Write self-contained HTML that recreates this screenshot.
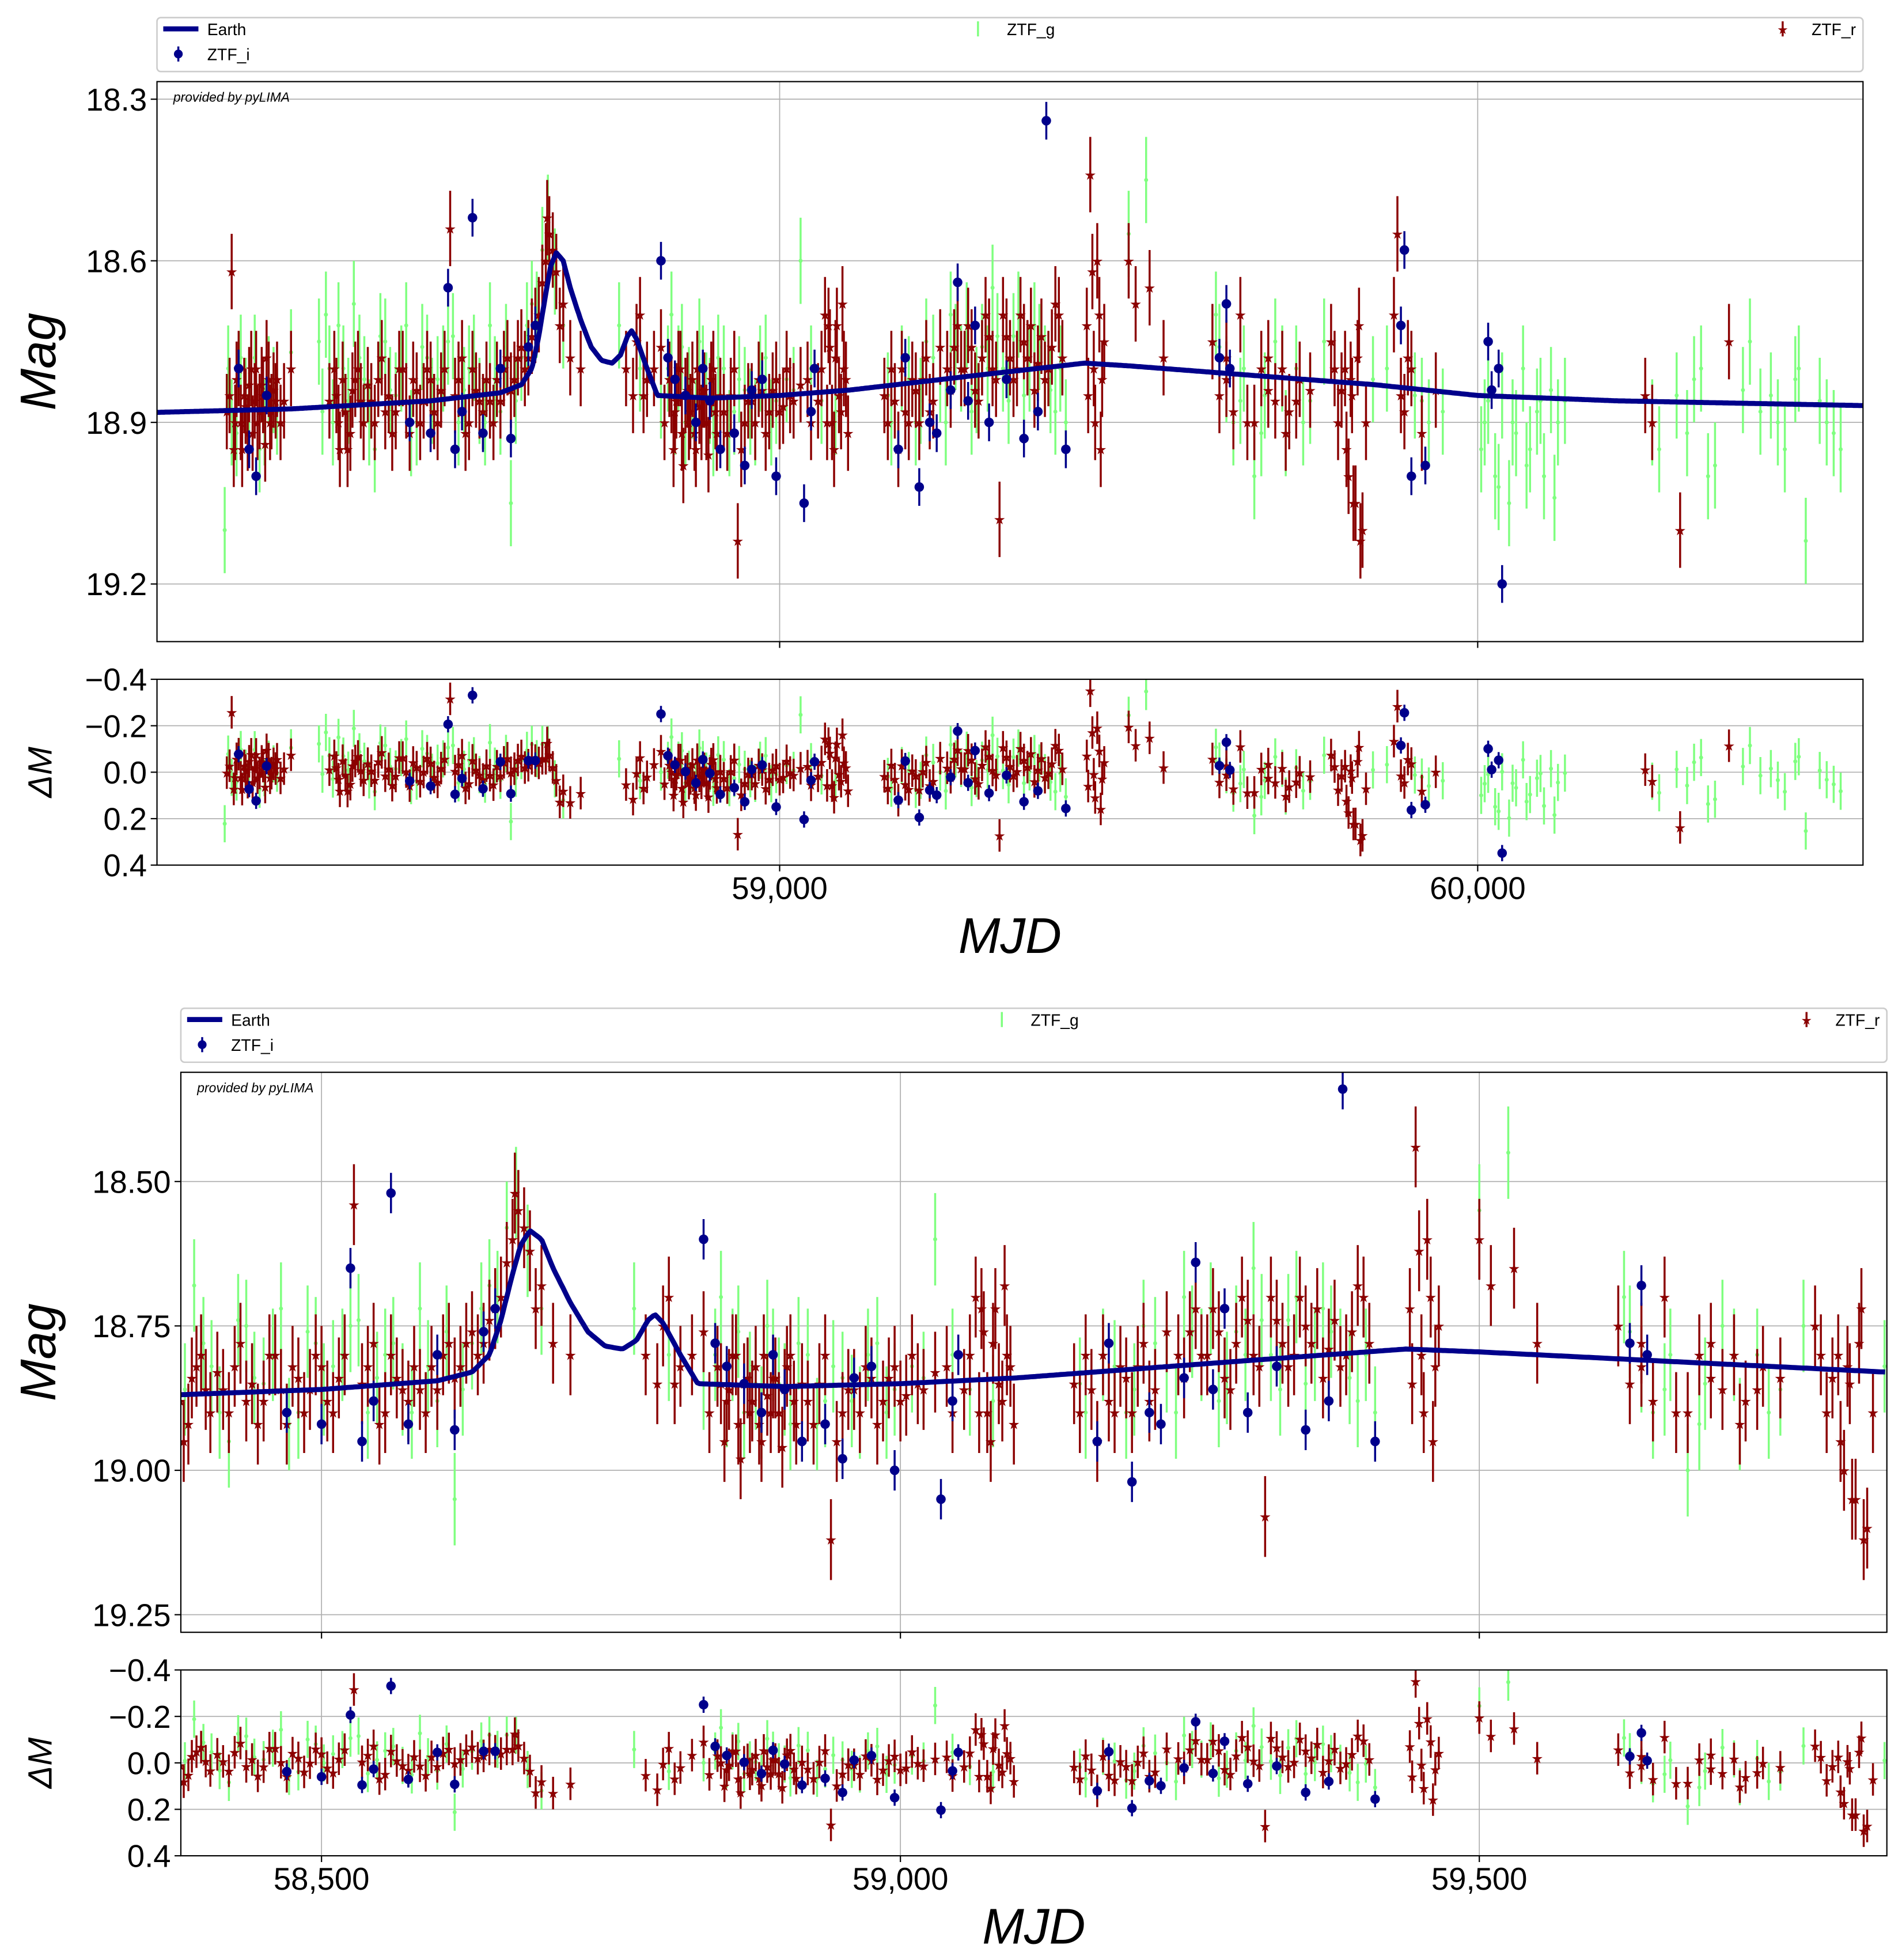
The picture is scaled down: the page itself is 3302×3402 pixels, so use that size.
<!DOCTYPE html>
<html><head><meta charset="utf-8"><style>
html,body{margin:0;padding:0;background:#fff}
svg{display:block}
text{font-family:"Liberation Sans","DejaVu Sans",sans-serif}
</style></head><body>
<svg id="chart" width="3302" height="3402" viewBox="0 0 1515 1561" xmlns="http://www.w3.org/2000/svg"></svg>
<script>
const modelMjd=[58000,58300,58500,58600,58630,58645,58655,58665,58672,58680,58690,58700,58715,58730,58745,58760,58772,58782,58788,58795,58810,58825,58900,59000,59100,59200,59300,59437,59500,59600,59700,59852,60000,60200,60400,60600];
const modelMag=[18.885,18.875,18.86,18.845,18.83,18.8,18.74,18.66,18.61,18.585,18.6,18.65,18.71,18.76,18.785,18.79,18.775,18.74,18.73,18.745,18.8,18.85,18.855,18.85,18.84,18.825,18.81,18.79,18.795,18.805,18.815,18.83,18.85,18.86,18.865,18.87];
const rMjd=[58212,58215,58220,58225,58230,58235,58240,58245,58250,58255,58260,58265,58270,58275,58280,58290,58300,58365,58370,58378,58385,58392,58400,58410,58420,58430,58440,58450,58460,58470,58480,58490,58500,58510,58520,58528,58535,58545,58555,58565,58575,58585,58595,58605,58615,58625,58635,58645,58655,58665,58670,58675,58680,58690,58700,58715,58780,58790,58800,58810,58830,58845,58850,58855,58860,58865,58870,58875,58880,58885,58890,58895,58900,58905,58910,58920,58930,58940,58945,58955,58965,58975,58985,58995,59005,59015,59030,59045,59060,59070,59075,59080,59085,59090,59095,59150,59160,59170,59180,59190,59200,59210,59220,59240,59250,59260,59270,59280,59290,59300,59310,59315,59320,59330,59340,59350,59360,59370,59380,59390,59400,59440,59445,59450,59455,59460,59465,59500,59510,59530,59550,59620,59630,59640,59660,59680,59690,59700,59710,59720,59730,59745,59760,59790,59800,59810,59815,59820,59825,59830,59835,59840,59880,59885,59890,59900,59920,59940,60240,60250,60290,60360];
const rMag=[18.85,18.62,18.9,18.8,18.95,18.87,18.83,18.92,18.8,18.88,18.85,18.78,18.9,18.84,18.82,18.86,18.8,18.85,18.95,18.88,18.92,18.82,18.86,18.83,18.9,18.78,18.85,18.88,18.8,18.92,18.84,18.86,18.82,18.9,18.8,18.54,18.85,18.78,18.9,18.84,18.88,18.86,18.82,18.8,18.84,18.78,18.8,18.74,18.7,18.6,18.55,18.58,18.62,18.68,18.78,18.8,18.8,18.85,18.7,18.82,18.76,18.85,18.88,18.8,18.92,18.85,18.9,18.82,18.95,18.87,18.84,18.9,18.86,18.8,18.92,18.88,18.85,19.12,18.95,18.86,18.9,18.84,18.88,18.82,18.87,18.85,18.83,18.9,18.8,18.72,18.9,18.78,18.85,18.68,18.82,18.85,18.8,18.95,18.88,18.82,18.9,18.78,18.86,18.8,18.76,18.8,18.72,18.84,18.78,18.74,18.82,19.08,18.7,18.78,18.8,18.75,18.72,18.79,18.82,18.76,18.7,18.72,18.44,18.8,18.6,18.95,18.75,18.6,18.68,18.65,18.78,18.75,18.85,18.82,18.7,18.9,18.8,18.78,18.86,18.8,18.88,18.82,18.84,18.75,18.9,18.8,19.0,18.85,19.05,18.72,19.1,18.9,18.7,18.55,18.85,18.78,18.92,18.84,18.85,18.9,19.1,18.75];
const r2Mjd=[58208,58218,58222,58228,58233,58238,58243,58248,58252,58258,58263,58268,58272,58278,58285,58355,58362,58368,58374,58381,58388,58396,58404,58415,58425,58435,58445,58455,58465,58475,58485,58495,58505,58515,58540,58550,58560,58570,58580,58590,58600,58610,58620,58630,58640,58650,58660,58667,58685,58795,58805,58820,58835,58842,58848,58852,58858,58862,58868,58872,58878,58882,58888,58892,58898,58902,58908,58915,58925,58935,58950,58960,58970,58980,58990,59000,59010,59020,59040,59055,59065,59068,59072,59078,59082,59088,59092,59098,59155,59165,59175,59185,59195,59205,59215,59230,59245,59255,59265,59275,59285,59295,59305,59325,59335,59345,59355,59365,59375,59385,59395,59405,59442,59448,59452,59458,59462,59640,59650,59670,59700,59725,59740,59795,59805,59812,59818,59822,59828,59832,59895,59905];
const r2Mag=[18.88,18.95,18.82,18.9,18.85,18.92,18.8,18.86,18.9,18.83,18.94,18.82,18.88,18.86,18.9,18.86,18.8,18.9,18.82,18.95,18.84,18.8,18.9,18.86,18.82,18.88,18.92,18.8,18.86,18.82,18.9,18.8,18.88,18.84,18.82,18.92,18.8,18.86,18.82,18.9,18.86,18.78,18.82,18.76,18.78,18.72,18.64,18.52,18.72,18.75,18.85,18.8,18.9,18.82,18.95,18.86,18.8,18.98,18.84,18.88,18.92,18.8,18.9,18.84,18.96,18.82,18.88,18.85,18.92,18.8,18.9,18.86,18.82,18.92,18.84,18.88,18.8,18.86,18.82,18.86,18.7,18.9,18.76,18.95,18.72,18.88,18.8,18.92,18.9,18.86,18.8,18.9,18.84,18.82,18.88,18.76,18.84,18.72,18.8,18.76,18.86,18.7,18.8,18.74,18.82,18.7,18.78,18.84,18.74,18.8,18.68,18.78,18.85,18.62,18.9,18.7,18.82,18.78,18.88,18.9,18.84,18.92,18.86,18.8,18.84,18.95,18.82,19.05,18.78,19.12,18.88,18.8,18.9];
const gMjd=[58205,58215,58228,58240,58255,58268,58280,58300,58340,58350,58360,58375,58390,58405,58420,58435,58450,58465,58480,58495,58510,58525,58540,58555,58570,58585,58600,58615,58630,58645,58660,58668,58678,58690,58770,58800,58830,58845,58855,58865,58875,58885,58895,58905,58920,58935,58950,58965,58980,58995,59010,59030,59045,59080,59155,59175,59195,59210,59230,59245,59260,59275,59290,59305,59320,59335,59350,59365,59380,59395,59410,59500,59525,59625,59640,59650,59665,59680,59695,59710,59725,59740,59760,59780,59850,59870,59910,59930,59950,60010,60025,60035,60045,60055,60065,60075,60085,60095,60105,60115,60125,60260,60285,60300,60320,60340,60390,60405,60420,60440,60455,60470,60500,60520];
const gMag=[19.1,18.9,18.78,18.85,18.95,18.82,18.88,18.77,18.75,18.7,18.9,18.8,18.68,18.82,18.95,18.75,18.85,18.72,18.9,18.78,18.82,18.75,18.9,18.8,18.86,18.72,18.88,19.05,18.78,18.68,18.58,18.52,18.62,18.72,18.72,18.8,18.85,18.7,18.8,18.9,18.85,18.75,18.85,18.92,18.8,18.88,18.84,18.9,18.78,18.86,18.82,18.6,18.8,18.88,18.85,18.8,18.9,18.75,18.82,18.7,18.8,18.88,18.76,18.65,18.8,18.74,18.85,18.72,18.8,18.88,18.9,18.55,18.45,18.7,18.82,18.9,18.8,19.0,18.85,18.75,18.92,18.8,18.86,18.75,18.82,18.8,18.85,18.9,18.88,18.9,19.0,18.85,19.05,18.92,18.8,18.95,18.88,19.0,18.84,18.9,18.86,18.95,18.85,18.92,18.8,18.98,18.75,18.88,18.85,18.95,18.82,19.12,18.9,18.95];
const g2Mjd=[58210,58222,58235,58248,58262,58275,58345,58355,58368,58382,58398,58412,58428,58442,58458,58472,58488,58502,58518,58532,58548,58562,58578,58592,58608,58622,58638,58652,58840,58850,58860,58870,58880,58890,58900,58912,58928,58942,58958,58972,58988,59020,59060,59160,59185,59202,59220,59238,59252,59268,59282,59298,59312,59328,59342,59358,59372,59388,59402,59630,59660,59690,59720,59750,59920,60005,60015,60030,60050,60070,60090,60110,60250,60310,60330,60380,60430,60460,60490,60510];
const g2Mag=[18.8,18.92,18.86,18.78,18.9,18.84,18.88,18.8,18.72,18.86,18.78,18.9,18.74,18.84,18.8,18.92,18.76,18.86,18.8,18.74,18.84,18.78,18.9,18.82,18.76,18.86,18.72,18.7,18.8,18.88,18.76,18.84,18.9,18.8,18.86,18.78,18.92,18.82,18.88,18.8,18.9,18.84,18.86,18.9,18.82,18.86,18.78,18.9,18.76,18.72,18.84,18.8,18.74,18.86,18.7,18.8,18.76,18.84,18.8,18.76,18.86,18.92,18.8,18.9,18.86,18.95,18.86,19.02,18.9,18.98,18.86,19.04,18.9,18.82,19.0,18.84,18.9,18.8,18.86,18.92];
const iMjd=[58225,58240,58250,58265,58470,58500,58525,58535,58545,58560,58575,58600,58615,58640,58650,58830,58840,58850,58865,58880,58890,58900,58915,58935,58950,58960,58975,58995,59035,59045,59050,59170,59180,59200,59215,59225,59245,59255,59270,59280,59300,59325,59350,59370,59382,59410,59630,59640,59645,59890,59895,59905,59925,60015,60020,60030,60035];
const iMag=[18.8,18.95,19.0,18.85,18.9,18.92,18.65,18.95,18.88,18.52,18.92,18.8,18.93,18.76,18.72,18.6,18.78,18.82,18.85,18.9,18.8,18.86,18.95,18.92,18.98,18.84,18.82,19.0,19.05,18.88,18.8,18.95,18.78,19.02,18.9,18.92,18.84,18.64,18.86,18.72,18.9,18.82,18.93,18.88,18.34,18.95,18.78,18.68,18.8,18.72,18.58,19.0,18.98,18.75,18.84,18.8,19.2];

const NS='http://www.w3.org/2000/svg';
const svg=document.getElementById('chart');
function el(tag,attrs,parent,txt){const e=document.createElementNS(NS,tag);for(const k in attrs)e.setAttribute(k,attrs[k]);if(txt!==undefined)e.textContent=txt;(parent||svg).appendChild(e);return e;}
function model(m){if(m<=modelMjd[0])return modelMag[0];for(let i=1;i<modelMjd.length;i++){if(m<=modelMjd[i]){const t=(m-modelMjd[i-1])/(modelMjd[i]-modelMjd[i-1]);return modelMag[i-1]+t*(modelMag[i]-modelMag[i-1]);}}return modelMag[modelMag.length-1];}
function fmt(v,d){const s=v.toFixed(d);return s.replace(/\B(?=(\d{3})+(?!\d))/g,',');}

function panel(cfg,idx){
  const g=el('g',{});
  
  
  const {L,R,T,B,RT,RB,x0,x1,y0,y1,xticks,yticks,yd}=cfg;
  const sx=m=>L+(m-x0)/(x1-x0)*(R-L);
  const sy=v=>T+(v-y0)/(y1-y0)*(B-T);
  const sr=v=>RT+(v+0.4)/0.8*(RB-RT);
  const cid='clip'+idx, rid='rclip'+idx;
  const defs=el('defs',{},g);
  const c1=el('clipPath',{id:cid},defs);el('rect',{x:L,y:T,width:R-L,height:B-T},c1);
  const c2=el('clipPath',{id:rid},defs);el('rect',{x:L,y:RT,width:R-L,height:RB-RT},c2);
  xticks.forEach(t=>{const x=sx(t);
    const a=el('line',{x1:x,x2:x,y1:T,y2:B,stroke:'#b0b0b0','stroke-width':0.8},g);
    const b=el('line',{x1:x,x2:x,y1:RT,y2:RB,stroke:'#b0b0b0','stroke-width':0.8},g);
    el('line',{x1:x,x2:x,y1:B,y2:B+5,stroke:'#000','stroke-width':1},g);
    el('line',{x1:x,x2:x,y1:RB,y2:RB+5,stroke:'#000','stroke-width':1},g);
    const tl=el('text',{x:x,y:RB+27,'font-size':25,'text-anchor':'middle'},g,fmt(t,0));
  });
  yticks.forEach(t=>{const y=sy(t);
    const a=el('line',{x1:L,x2:R,y1:y,y2:y,stroke:'#b0b0b0','stroke-width':0.8},g);
    el('line',{x1:L-5,x2:L,y1:y,y2:y,stroke:'#000','stroke-width':1},g);
    const tl=el('text',{x:L-8,y:y+9,'font-size':25,'text-anchor':'end'},g,t.toFixed(yd));
  });
  [-0.4,-0.2,0,0.2,0.4].forEach(t=>{const y=sr(t);
    el('line',{x1:L,x2:R,y1:y,y2:y,stroke:'#b0b0b0','stroke-width':0.8},g);
    el('line',{x1:L-5,x2:L,y1:y,y2:y,stroke:'#000','stroke-width':1},g);
    const lab=(t<0?'\u2212':'')+Math.abs(t).toFixed(1);
    const tl=el('text',{x:L-8,y:y+9,'font-size':25,'text-anchor':'end'},g,lab);
  });
  const dg=el('g',{'clip-path':'url(#'+cid+')'},g);
  const rg=el('g',{'clip-path':'url(#'+rid+')'},g);
  const bands=[{m:gMjd,v:gMag,c:'#7fff7f',e:0.08,k:'g'},{m:g2Mjd,v:g2Mag,c:'#7fff7f',e:0.08,k:'g'},{m:rMjd,v:rMag,c:'#8b0000',e:0.07,k:'r'},{m:r2Mjd,v:r2Mag,c:'#8b0000',e:0.07,k:'r'},{m:iMjd,v:iMag,c:'#00008b',e:0.035,k:'i'}];
  let d='';for(let m=x0;m<=x1;m+=2){d+=(d?'L':'M')+sx(m).toFixed(1)+','+sy(model(m)).toFixed(1);}
  bands.slice(0,4).forEach(b=>draw(b));
  const mc=el('path',{d:d,fill:'none',stroke:'#00008b','stroke-width':4,'stroke-linejoin':'round'},dg);
  draw(bands[4]);
  function draw(b){
    b.m.forEach((m,i)=>{const v=b.v[i],x=sx(m),y=sy(v),res=v-model(m),yr=sr(res);
      [[dg,y,sy(v-b.e),sy(v+b.e)],[rg,yr,sr(res-b.e),sr(res+b.e)]].forEach(([p,yy,ya,yb])=>{
        const eb=el('line',{x1:x,x2:x,y1:ya,y2:yb,stroke:b.c,'stroke-width':1.6},p);
        
        let mk;
        if(b.k==='i'){mk=el('circle',{cx:x,cy:yy,r:3.8,fill:b.c},p);}
        else if(b.k==='r'){mk=el('text',{x:x,y:yy+4,'font-size':11,'text-anchor':'middle',fill:b.c},p,'\u2605');}
        else{mk=el('circle',{cx:x,cy:yy,r:1.6,fill:b.c},p);}
        
      });
    });
  }
  el('rect',{x:L,y:T,width:R-L,height:B-T,fill:'none',stroke:'#000','stroke-width':1},g);
  el('rect',{x:L,y:RT,width:R-L,height:RB-RT,fill:'none',stroke:'#000','stroke-width':1},g);
  const pb=el('text',{x:L+13,y:T+16,'font-size':10.5,'font-style':'italic'},g,'provided by pyLIMA');
  const my=(T+B)/2, ry=(RT+RB)/2;
  const yl=el('text',{x:0,y:0,'font-size':40,'font-style':'italic','text-anchor':'middle',transform:`translate(${cfg.labX},${my}) rotate(-90)`},g,'Mag');
  const rl=el('text',{x:0,y:0,'font-size':27,'font-style':'italic','text-anchor':'middle',transform:`translate(${cfg.labX-3},${ry}) rotate(-90)`},g,'\u0394M');
  const xl=el('text',{x:(L+R)/2,y:RB+70,'font-size':40,'font-style':'italic','text-anchor':'middle'},g,'MJD');
  const lg=el('g',{},g);
  const LT=cfg.legT;
  el('rect',{x:L,y:LT,width:R-L,height:43,rx:3,fill:'#fff',stroke:'#ccc','stroke-width':1.2},lg);
  el('line',{x1:L+5,x2:L+33,y1:LT+9,y2:LT+9,stroke:'#00008b','stroke-width':4},lg);
  el('text',{x:L+40,y:LT+14,'font-size':13},lg,'Earth');
  el('line',{x1:L+17,x2:L+17,y1:LT+23,y2:LT+35,stroke:'#00008b','stroke-width':1.6},lg);
  el('circle',{cx:L+17,cy:LT+29,r:3.5,fill:'#00008b'},lg);
  el('text',{x:L+40,y:LT+34,'font-size':13},lg,'ZTF_i');
  el('line',{x1:L+654,x2:L+654,y1:LT+3,y2:LT+15,stroke:'#7fff7f','stroke-width':1.6},lg);
  el('text',{x:L+677,y:LT+14,'font-size':13},lg,'ZTF_g');
  el('line',{x1:L+1295,x2:L+1295,y1:LT+3,y2:LT+15,stroke:'#8b0000','stroke-width':1.6},lg);
  el('text',{x:L+1295,y:LT+13,'font-size':10,'text-anchor':'middle',fill:'#8b0000'},lg,'\u2605');
  el('text',{x:L+1318,y:LT+14,'font-size':13},lg,'ZTF_r');
}
panel({L:125,R:1484,T:65,B:511,RT:541,RB:689,x0:58108,x1:60552,y0:18.3-14/128.7*0.3,y1:18.3+(511-79)/128.7*0.3,
  xticks:[59000,60000],yticks:[18.3,18.6,18.9,19.2],yd:1,labX:44,legT:14},1);
panel({L:144,R:1503,T:854,B:1300,RT:1330,RB:1478,x0:58378.5,x1:59852,y0:18.5-(941-854)/460,y1:18.5+(1300-941)/460,
  xticks:[58500,59000,59500],yticks:[18.5,18.75,19.0,19.25],yd:2,labX:44,legT:803},2);
</script>
</body></html>
